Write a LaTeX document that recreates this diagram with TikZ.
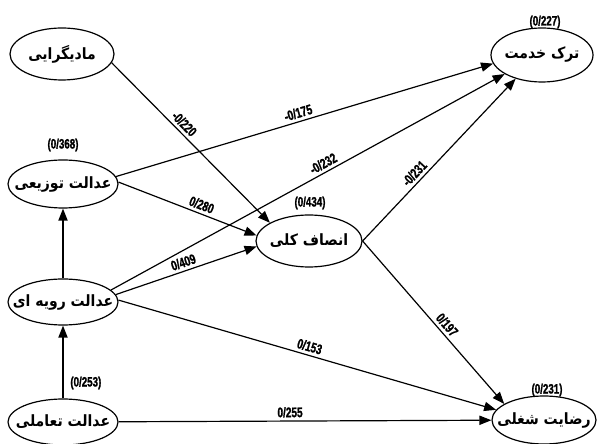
\documentclass[tikz,border=0pt]{standalone}
\usepackage{fontspec}
\usepackage{tikz}
\usetikzlibrary{arrows.meta,shapes.geometric}
\TeXXeTstate=1
\newfontfamily\persfont[Script=Arabic,FakeStretch=0.9]{DejaVu Sans}
\newfontfamily\numfont[FakeStretch=0.72,FakeBold=1.2]{Liberation Sans}
\tikzset{
  construct/.style={
    ellipse,
    draw,
    line width=0.6pt,
    inner sep=0pt,
    minimum width=52bp,
    minimum height=26bp
  },
  facename/.style={font=\persfont\bfseries\fontsize{7.8}{9}\selectfont, inner sep=0pt},
  effect/.style={-{Triangle[length=6bp,width=4.6bp]}, line width=0.6pt},
  weight/.style={font=\numfont\bfseries\fontsize{7}{8}\selectfont, sloped, above, inner sep=1.5pt},
  score/.style={font=\numfont\bfseries\fontsize{6.8}{8}\selectfont, inner sep=1pt}
}
\begin{document}
\begin{tikzpicture}[x=0.5bp,y=-0.5bp]
\useasboundingbox (0,0) rectangle (597,444);
% constructs
\node[construct, label={[facename]center:\beginR مادیگرایی\endR}] (mad) at (62,54) {};
\node[construct, minimum width=55bp, minimum height=24bp, label={[facename]center:\beginR عدالت توزیعی\endR}] (tawz) at (63,184) {};
\node[construct, minimum width=55bp, minimum height=23bp, label={[facename]center:\beginR عدالت رویه ای\endR}] (rav) at (63,302) {};
\node[construct, minimum width=55bp, minimum height=23bp, label={[facename]center:\beginR عدالت تعاملی\endR}] (tam) at (63,422) {};
\node[construct, minimum width=53bp, label={[facename]center:\beginR انصاف کلی\endR}] (ens) at (309,241) {};
\node[construct, minimum width=51bp, minimum height=27bp, label={[facename]center:\beginR ترک خدمت\endR}] (tark) at (542,55) {};
\node[construct, minimum width=52bp, minimum height=24bp, label={[facename]center:\beginR رضایت شغلی\endR}] (rez) at (544,420) {};

% explained variance
\node[score] (s-tawz) at (63,145) {(0/368)};
\node[score] (s-ens) at (310,203) {(0/434)};
\node[score] (s-tark) at (545,22) {(0/227)};
\node[score] (s-rez) at (547,390) {(0/231)};
\node[score, anchor=west] (s-rav) at (68,383) {(0/253)};

% paths
\draw[effect] (mad.-10) -- node[weight, pos=0.42] {-0/220} (ens.155);
\draw[effect] (tawz.8) -- node[weight, pos=0.49] {-0/175} (tark.190);
\draw[effect] (tawz.2) -- node[weight, pos=0.58] {0/280} (ens.174);
\draw[effect] (rav.14) -- node[weight, pos=0.55] {-0/232} (tark.207);
\draw[effect] (rav.8) -- node[weight, pos=0.5] {0/409} (ens.186);
\draw[effect] (ens.east) -- node[weight, pos=0.38] {-0/231} (tark.222);
\draw[effect] (ens.east) -- node[weight, pos=0.55] {0/197} (rez.158);
\draw[effect] (rav.2) -- node[weight, pos=0.5] {0/153} (rez.168);
\draw[effect] (tam) -- node[weight, pos=0.46] {0/255} (rez);
\draw[effect] (rav) -- (tawz);
\draw[effect] (tam) -- (rav);
\end{tikzpicture}
\end{document}
